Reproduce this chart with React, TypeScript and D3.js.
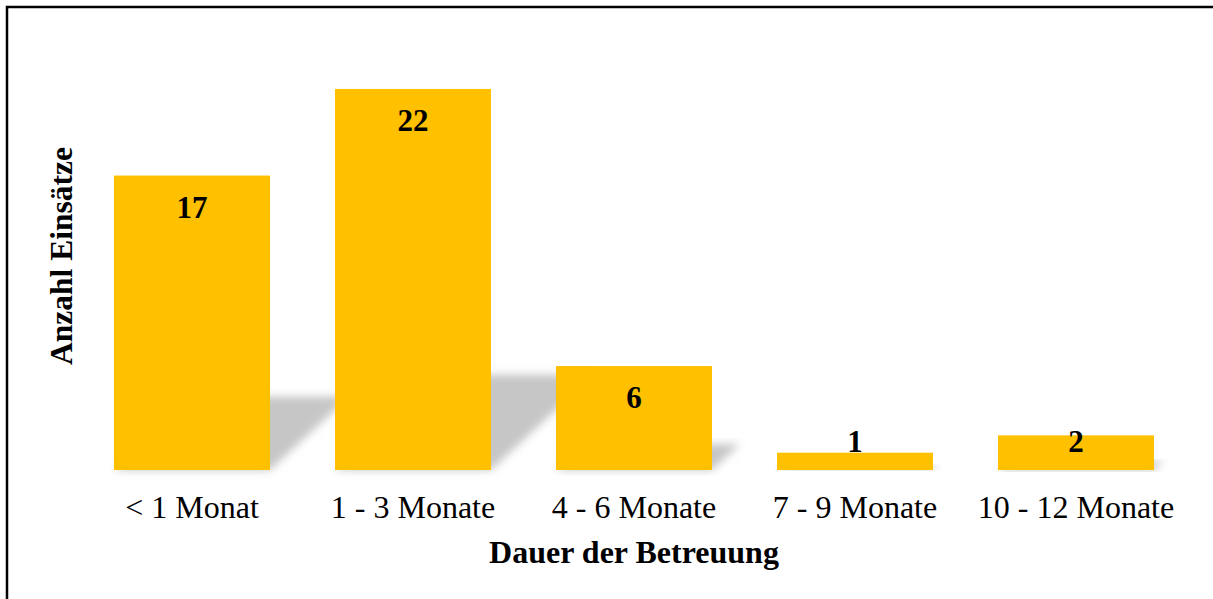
import React, { useEffect, useRef } from "react";
import * as d3 from "d3";

const categories = ["< 1 Monat", "1 - 3 Monate", "4 - 6 Monate", "7 - 9 Monate", "10 - 12 Monate"];
const values = [17, 22, 6, 1, 2];
const yMax = 25;

const xTitle = "Dauer der Betreuung";
const yTitle = "Anzahl Einsätze";

const width = 1213;
const height = 599;
const font = "'Liberation Serif', 'Times New Roman', serif";

export default function App() {
  const ref = useRef(null);

  useEffect(() => {
    const svg = d3.select(ref.current);
    svg.selectAll("*").remove();

    const x = d3
      .scaleBand<string>()
      .domain(categories)
      .range([81.5, 1186.5])
      .paddingInner(0.294)
      .paddingOuter(0.147);
    const y = d3.scaleLinear().domain([0, yMax]).range([470, 37]);

    const defs = svg.append("defs");
    defs
      .append("filter")
      .attr("id", "shadowBlur")
      .attr("x", "-20%")
      .attr("y", "-20%")
      .attr("width", "140%")
      .attr("height", "140%")
      .append("feGaussianBlur")
      .attr("stdDeviation", 4.5);

    // outer frame
    svg
      .append("rect")
      .attr("x", 7)
      .attr("y", 7)
      .attr("width", width)
      .attr("height", height)
      .attr("fill", "none")
      .attr("stroke", "black")
      .attr("stroke-width", 2.5);

    // perspective shadows (diagonal upper right)
    const base = y(0);
    svg
      .append("g")
      .selectAll("path")
      .data(values)
      .join("path")
      .attr("d", (d, i) => {
        const x0 = x(categories[i])!;
        const x1 = x0 + x.bandwidth();
        const hs = (base - y(d)) * 0.25;
        const dx = hs * 1.08;
        return `M${x0},${base}L${x1},${base}L${x1 + dx},${base - hs}L${x0 + dx},${base - hs}Z`;
      })
      .attr("fill", "#c6c6c6")
      .attr("filter", "url(#shadowBlur)");

    // bars
    svg
      .append("g")
      .selectAll("rect")
      .data(values)
      .join("rect")
      .attr("x", (_, i) => x(categories[i])!)
      .attr("y", (d) => y(d))
      .attr("width", x.bandwidth())
      .attr("height", (d) => base - y(d))
      .attr("fill", "#FFC000");

    // value labels
    svg
      .append("g")
      .selectAll("text")
      .data(values)
      .join("text")
      .attr("x", (_, i) => x(categories[i])! + x.bandwidth() / 2)
      .attr("y", (d) => Math.min(y(d) + 42, base - 18))
      .attr("text-anchor", "middle")
      .attr("font-family", font)
      .attr("font-weight", "bold")
      .attr("font-size", 31)
      .attr("fill", "black")
      .text((d) => d);

    // category labels
    svg
      .append("g")
      .selectAll("text")
      .data(categories)
      .join("text")
      .attr("x", (d) => x(d)! + x.bandwidth() / 2)
      .attr("y", 518)
      .attr("text-anchor", "middle")
      .attr("font-family", font)
      .attr("font-size", 32)
      .attr("fill", "black")
      .text((d) => d);

    // axis titles
    svg
      .append("text")
      .attr("x", 634)
      .attr("y", 563)
      .attr("text-anchor", "middle")
      .attr("font-family", font)
      .attr("font-weight", "bold")
      .attr("font-size", 32)
      .text(xTitle);

    svg
      .append("text")
      .attr("transform", "translate(72,256) rotate(-90)")
      .attr("text-anchor", "middle")
      .attr("font-family", font)
      .attr("font-weight", "bold")
      .attr("font-size", 31.5)
      .text(yTitle);
  }, []);

  return (
    <svg
      ref={ref}
      width={width}
      height={height}
      style={{ position: "absolute", left: 0, top: 0, background: "white" }}
    />
  );
}
